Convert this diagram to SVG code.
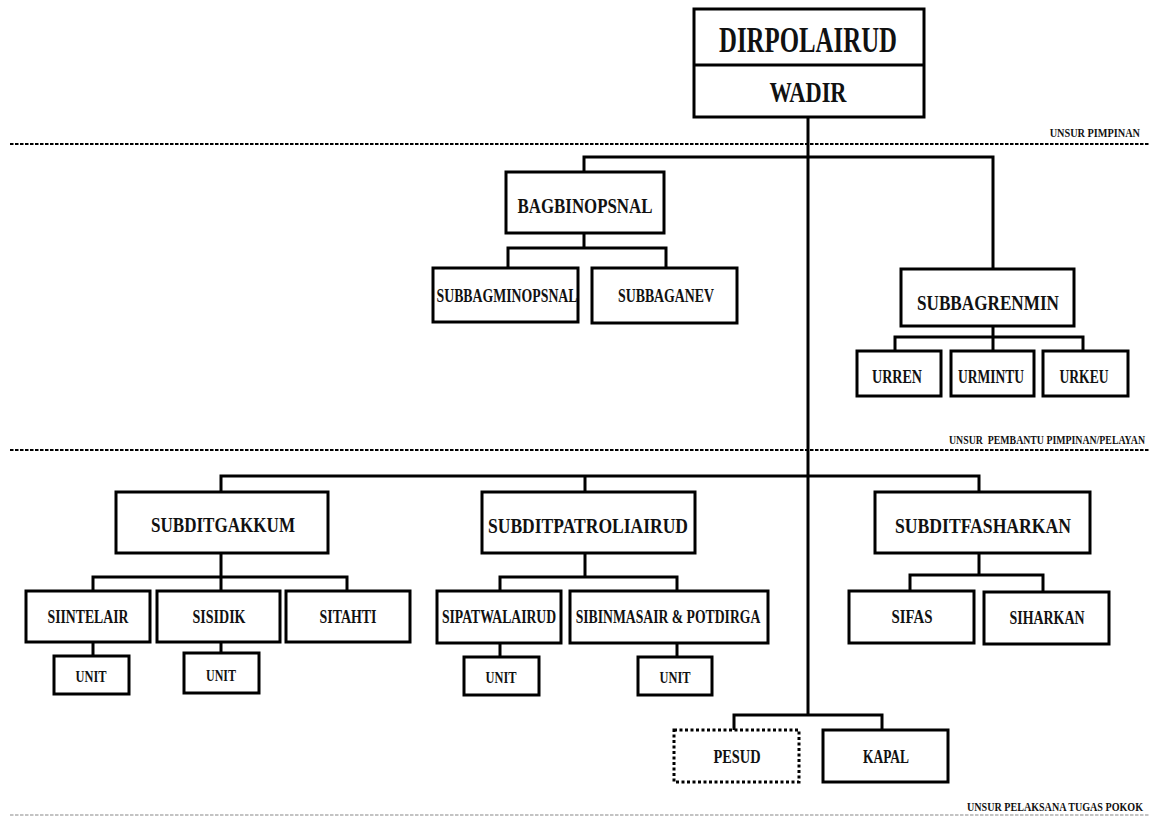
<svg xmlns="http://www.w3.org/2000/svg" width="1160" height="821" viewBox="0 0 1160 821">
<style>
.box{fill:#fff;stroke:#000;stroke-width:3}
.dot{fill:#fff;stroke:#000;stroke-width:3;stroke-dasharray:3 2.5}
.con{fill:none;stroke:#000;stroke-width:3}
.sep{fill:none;stroke:#000;stroke-width:2;stroke-dasharray:3.5 1.5}
.sep2{fill:none;stroke:#b0b0b0;stroke-width:1.5;stroke-dasharray:3.5 1.5}
text{font-family:"Liberation Serif","DejaVu Serif",serif;font-weight:bold;fill:#111;text-anchor:middle}
.t22{font-size:22px}
.t19{font-size:19px}
.t16{font-size:16px}
.lab{font-size:13px;text-anchor:end;white-space:pre}
</style>
<rect width="1160" height="821" fill="#fff"/>
<g id="separators">
<line class="sep" x1="10" y1="144" x2="1150" y2="144"/>
<line class="sep" x1="10" y1="450" x2="1150" y2="450"/>
<line class="sep2" x1="10" y1="815" x2="1150" y2="815"/>
<text class="lab" x="0" y="0" transform="translate(1140 137) scale(0.79 1)">UNSUR PIMPINAN</text>
<text class="lab" x="0" y="0" transform="translate(1145 444) scale(0.756 1)">UNSUR  PEMBANTU PIMPINAN/PELAYAN</text>
<text class="lab" x="0" y="0" transform="translate(1143 811) scale(0.776 1)">UNSUR PELAKSANA TUGAS POKOK</text>
</g>
<g id="connectors">
<path class="con" d="M808 117V715"/>
<path class="con" d="M584 172V157H993V269"/>
<path class="con" d="M584 233V248M508 268V248H666V268"/>
<path class="con" d="M993 326V351M895 351V337H1083V351"/>
<path class="con" d="M221 492V476H979V492M585 476V492"/>
<path class="con" d="M221 553V591M93 591V577H347V591"/>
<path class="con" d="M93 642V656M221 642V653"/>
<path class="con" d="M585 553V577M500 591V577H677V591"/>
<path class="con" d="M500 643V657M677 643V657"/>
<path class="con" d="M979 553V575M910 591V575H1043V591"/>
<path class="con" d="M734 730V715H882V730"/>
</g>
<g id="dirpolairud">
<rect class="box" x="694" y="9" width="230" height="108"/>
<line class="con" x1="694" y1="65" x2="924" y2="65"/>
<text x="808" y="52" style="font-size:36px" textLength="178" lengthAdjust="spacingAndGlyphs">DIRPOLAIRUD</text>
<text x="808" y="102" style="font-size:30px" textLength="77" lengthAdjust="spacingAndGlyphs">WADIR</text>
</g>
<g id="bagbinopsnal">
<rect class="box" x="506" y="172" width="158" height="61"/>
<text class="t22" x="585" y="213" textLength="135" lengthAdjust="spacingAndGlyphs">BAGBINOPSNAL</text>
</g>
<g id="subbagminopsnal">
<rect class="box" x="433" y="268" width="145" height="54"/>
<text class="t19" x="507" y="302" textLength="141" lengthAdjust="spacingAndGlyphs">SUBBAGMINOPSNAL</text>
</g>
<g id="subbaganev">
<rect class="box" x="592" y="268" width="145" height="55"/>
<text class="t19" x="666" y="302" textLength="96" lengthAdjust="spacingAndGlyphs">SUBBAGANEV</text>
</g>
<g id="subbagrenmin">
<rect class="box" x="901" y="269" width="173" height="57"/>
<text class="t22" x="988" y="310" textLength="142" lengthAdjust="spacingAndGlyphs">SUBBAGRENMIN</text>
</g>
<g id="urren">
<rect class="box" x="857" y="351" width="84" height="45"/>
<text class="t19" x="897" y="383" textLength="50" lengthAdjust="spacingAndGlyphs">URREN</text>
</g>
<g id="urmintu">
<rect class="box" x="951" y="351" width="83" height="45"/>
<text class="t19" x="991" y="383" textLength="66" lengthAdjust="spacingAndGlyphs">URMINTU</text>
</g>
<g id="urkeu">
<rect class="box" x="1043" y="351" width="85" height="45"/>
<text class="t19" x="1084" y="383" textLength="49" lengthAdjust="spacingAndGlyphs">URKEU</text>
</g>
<g id="subditgakkum">
<rect class="box" x="116" y="492" width="212" height="61"/>
<text class="t22" x="223" y="532" textLength="144" lengthAdjust="spacingAndGlyphs">SUBDITGAKKUM</text>
</g>
<g id="subditpatroliairud">
<rect class="box" x="482" y="492" width="213" height="61"/>
<text class="t22" x="588" y="533" textLength="200" lengthAdjust="spacingAndGlyphs">SUBDITPATROLIAIRUD</text>
</g>
<g id="subditfasharkan">
<rect class="box" x="875" y="492" width="215" height="61"/>
<text class="t22" x="983" y="533" textLength="176" lengthAdjust="spacingAndGlyphs">SUBDITFASHARKAN</text>
</g>
<g id="siintelair">
<rect class="box" x="26" y="591" width="124" height="51"/>
<text class="t19" x="88" y="623" textLength="81" lengthAdjust="spacingAndGlyphs">SIINTELAIR</text>
</g>
<g id="sisidik">
<rect class="box" x="157" y="591" width="123" height="51"/>
<text class="t19" x="219" y="623" textLength="53" lengthAdjust="spacingAndGlyphs">SISIDIK</text>
</g>
<g id="sitahti">
<rect class="box" x="286" y="591" width="124" height="51"/>
<text class="t19" x="348" y="623" textLength="57" lengthAdjust="spacingAndGlyphs">SITAHTI</text>
</g>
<g id="unit1">
<rect class="box" x="54" y="656" width="75" height="38"/>
<text class="t16" x="91" y="682" textLength="31" lengthAdjust="spacingAndGlyphs">UNIT</text>
</g>
<g id="unit2">
<rect class="box" x="184" y="653" width="75" height="40"/>
<text class="t16" x="221" y="681" textLength="30" lengthAdjust="spacingAndGlyphs">UNIT</text>
</g>
<g id="sipatwalairud">
<rect class="box" x="437" y="591" width="124" height="52"/>
<text class="t19" x="0" y="0" transform="translate(499 623) scale(0.72 1)">SIPATWALAIRUD</text>
</g>
<g id="sibinmasair">
<rect class="box" x="570" y="591" width="198" height="52"/>
<text class="t19" x="0" y="0" transform="translate(668 623) scale(0.72 1)">SIBINMASAIR &amp; POTDIRGA</text>
</g>
<g id="unit3">
<rect class="box" x="464" y="657" width="75" height="38"/>
<text class="t16" x="501" y="683" textLength="31" lengthAdjust="spacingAndGlyphs">UNIT</text>
</g>
<g id="unit4">
<rect class="box" x="638" y="657" width="74" height="38"/>
<text class="t16" x="675" y="683" textLength="31" lengthAdjust="spacingAndGlyphs">UNIT</text>
</g>
<g id="sifas">
<rect class="box" x="849" y="591" width="125" height="52"/>
<text class="t19" x="912" y="623" textLength="41" lengthAdjust="spacingAndGlyphs">SIFAS</text>
</g>
<g id="siharkan">
<rect class="box" x="984" y="592" width="125" height="52"/>
<text class="t19" x="1047" y="624" textLength="75" lengthAdjust="spacingAndGlyphs">SIHARKAN</text>
</g>
<g id="pesud">
<rect class="dot" x="674" y="730" width="125" height="52"/>
<text class="t19" x="737" y="763" textLength="47" lengthAdjust="spacingAndGlyphs">PESUD</text>
</g>
<g id="kapal">
<rect class="box" x="823" y="730" width="125" height="52"/>
<text class="t19" x="886" y="763" textLength="46" lengthAdjust="spacingAndGlyphs">KAPAL</text>
</g>
</svg>
